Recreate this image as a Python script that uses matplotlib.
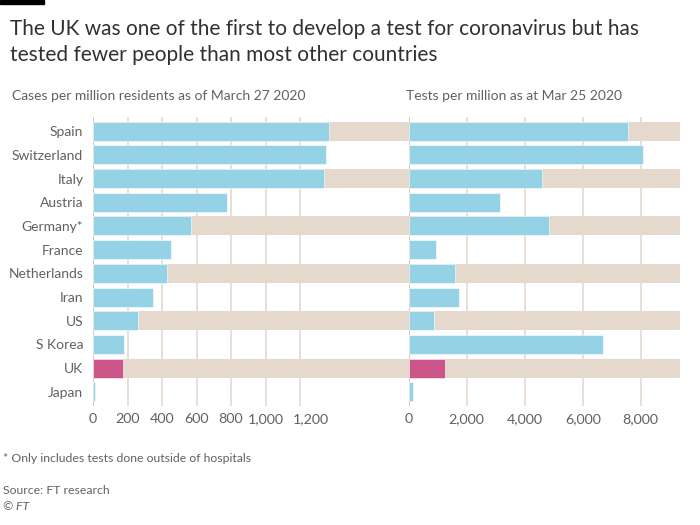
import matplotlib
matplotlib.use("Agg")
import matplotlib.pyplot as plt
import matplotlib.transforms as mtransforms
from matplotlib.patches import Rectangle

# ------------------------------
# DATA
# ------------------------------
countries = ["Spain", "Switzerland", "Italy", "Austria", "Germany*", "France",
             "Netherlands", "Iran", "US", "S Korea", "UK", "Japan"]
cases_per_million = [1368, 1353, 1339, 775, 568, 450, 429, 348, 260, 180, 174, 11]
tests_per_million = [7570, 8090, 4590, 3160, 4840, 940, 1610, 1745, 880, 6690, 1260, 160]

cases_ticks = [0, 200, 400, 600, 800, 1000, 1200]
tests_ticks = [0, 2000, 4000, 6000, 8000]

# ------------------------------
# STYLE
# ------------------------------
blue = "#96d2e5"
pink = "#cc5589"
beige = "#e5d9ce"
grid_col = "#e8dcd3"
zero_col = "#d0c4bb"
text_dark = "#33302e"
text_grey = "#66605c"

plt.rcParams["font.family"] = ["Lato", "DejaVu Sans"]

W, H = 700, 525
fig = plt.figure(figsize=(7, 5.25), dpi=100)

# pixel geometry
y_top, y_bot = 117, 406
left_x0, right_x0, right_x1 = 93, 408.7, 680

def fx(px):
    return px / W

bottom = 1 - y_bot / H
height = (y_bot - y_top) / H

ax1 = fig.add_axes([fx(left_x0), bottom, fx(right_x0 - left_x0), height])
ax2 = fig.add_axes([fx(right_x0), bottom, fx(right_x1 - right_x0), height])

n = len(countries)
ypos = list(range(n))
bar_h = 0.8

def draw_panel(ax, values, ticks, xmax, labels):
    ax.set_xlim(0, xmax)
    ax.set_ylim(n - 1 + 0.6, -0.6)
    for t in ticks[1:]:
        ax.axvline(t, color=grid_col, lw=1.3, zorder=0)
    # alternating beige row bands
    for i in ypos:
        if i % 2 == 0:
            ax.barh(i, xmax, height=bar_h, color=beige, zorder=1, linewidth=0)
    ax.axvline(0, color=zero_col, lw=1.3, zorder=1.5)
    colors = [pink if c == "UK" else blue for c in countries]
    ax.barh(ypos, values, height=bar_h, color=colors, zorder=2,
            edgecolor="white", linewidth=0.4)
    ax.set_xticks(ticks)
    ax.set_xticklabels([f"{t:,}" for t in ticks])
    ax.tick_params(axis="x", length=0, pad=5, labelsize=10.3, colors=text_grey)
    if labels:
        ax.set_yticks(ypos)
        ax.set_yticklabels(countries)
        ax.tick_params(axis="y", length=0, pad=7, labelsize=10, colors=text_grey)
    else:
        ax.set_yticks([])
    for s in ax.spines.values():
        s.set_visible(False)
    ax.patch.set_alpha(0)

draw_panel(ax1, cases_per_million, cases_ticks, 1830, True)
draw_panel(ax2, tests_per_million, tests_ticks, 9355, False)

# last label on the left axis is nudged right so it clears "1,000"
last = ax1.get_xticklabels()[-1]
last.set_transform(last.get_transform() +
                   mtransforms.ScaledTranslation(11 / 100, 0, fig.dpi_scale_trans))

# black tag top-left
fig.patches.append(Rectangle((0, 1 - 4 / H), 44 / W, 4 / H, transform=fig.transFigure,
                             color="black", zorder=5))

fig.text(10 / W, 1 - 61 / H,
         "The UK was one of the first to develop a test for coronavirus but has\n"
         "tested fewer people than most other countries",
         fontsize=15, color=text_dark, va="baseline", linespacing=1.38)
fig.text(12 / W, 1 - 96 / H, "Cases per million residents as of March 27 2020",
         fontsize=10, color=text_grey, va="center")
fig.text(406 / W, 1 - 96 / H, "Tests per million as at Mar 25 2020",
         fontsize=10, color=text_grey, va="center")

fig.text(3 / W, 1 - 458 / H, "* Only includes tests done outside of hospitals",
         fontsize=8.8, color=text_grey, va="center")
fig.text(3 / W, 1 - 491 / H, "Source: FT research",
         fontsize=8.8, color=text_grey, va="center")
fig.text(3 / W, 1 - 506 / H, "© FT", fontsize=8.8, color=text_grey,
         va="center", style="italic")

fig.savefig("out.png", dpi=100, facecolor="white")
